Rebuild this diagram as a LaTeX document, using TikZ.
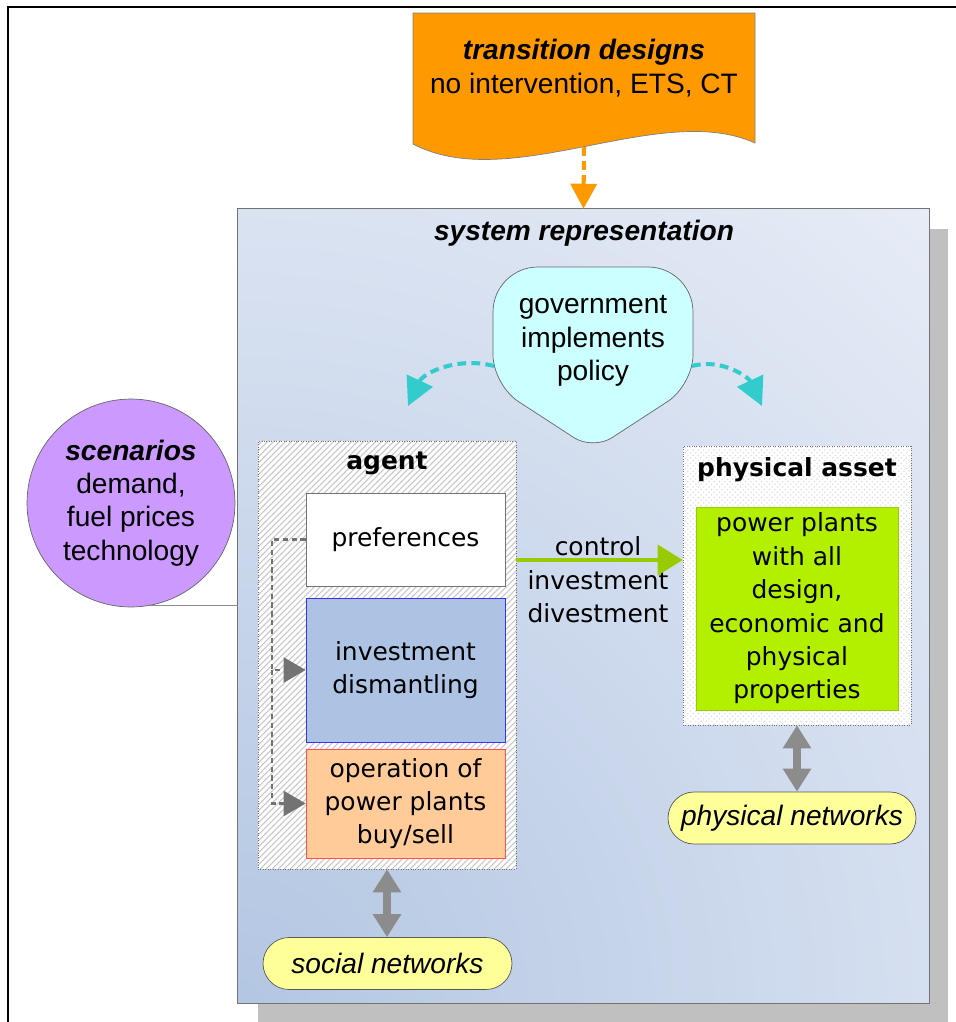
\documentclass[tikz,border=0pt]{standalone}
\usepackage{fontspec}
\setmainfont{Liberation Sans}
\newfontfamily\tahoma{DejaVu Sans}
\usetikzlibrary{arrows.meta,patterns}

\definecolor{transorange}{HTML}{FF9900}
\definecolor{govcyan}{HTML}{CCFFFF}
\definecolor{govarrow}{HTML}{33CCCC}
\definecolor{scenpurple}{HTML}{CC99FF}
\definecolor{netyellow}{HTML}{FFFF99}
\definecolor{plantgreen}{HTML}{B3F000}
\definecolor{ctrlgreen}{HTML}{99CC00}
\definecolor{investblue}{HTML}{ADC3E3}
\definecolor{investedge}{HTML}{3333FF}
\definecolor{operorange}{HTML}{FFCC99}
\definecolor{operedge}{HTML}{FF5050}
\definecolor{shadowgray}{HTML}{C0C0C0}
\definecolor{sysdark}{HTML}{B3C6E2}
\definecolor{syslight}{HTML}{E8EDF7}

\begin{document}
\begin{tikzpicture}[x=0.02cm, y=-0.02cm,
    every node/.style={align=center},
    arial/.style={font=\fontsize{16}{19}\selectfont},
    tahomatxt/.style={font=\tahoma\fontsize{14.2}{19}\selectfont},
    stepbox/.style={draw, minimum width=3.98cm, inner sep=0pt, tahomatxt},
    holder/.style={draw=black!55, densely dotted, inner sep=0pt},
    pill/.style={draw=black!65, fill=netyellow, rounded corners=0.52cm, minimum width=4.96cm,
        minimum height=1.04cm, inner sep=0pt, font=\fontsize{16}{19}\selectfont\itshape},
    netlink/.style={draw=black!45, line width=4pt,
        {Triangle[length=0.46cm,width=0.54cm]}-{Triangle[length=0.46cm,width=0.54cm]}},
    feed/.style={draw=black!55, densely dashed, line width=1.3pt, -{Triangle[length=0.44cm,width=0.5cm]}},
    policy/.style={draw=govarrow, line width=2.3pt, dash pattern=on 5pt off 3pt,
        -{Triangle[length=0.56cm,width=0.56cm]}},
    designflow/.style={draw=transorange, line width=2.3pt, dash pattern=on 5pt off 3pt,
        -{Triangle[length=0.5cm,width=0.52cm]}},
    control/.style={draw=ctrlgreen, line width=2.3pt, -{Triangle[length=0.5cm,width=0.6cm]}}]

    \useasboundingbox (0,0) rectangle (956,1022);
    \draw[line width=1.2pt] (8,1022) -- (8,7) -- (956,7);

    % system representation with its shadow
    \fill[shadowgray] (258,229) rectangle (948,1022);
    \node[fill=syslight, minimum width=13.82cm, minimum height=15.88cm, inner sep=0pt] (sys) at (583.5,606) {};
    \begin{scope}
        \clip (sys.south west) rectangle (sys.north east);
        \shade[inner color=sysdark, outer color=syslight] (sys.south west) circle[radius=21.5cm];
    \end{scope}
    \draw[black!55, line width=0.8pt] (sys.south west) rectangle (sys.north east);
    \node[arial] (systitle) at (584,233) {\bfseries\itshape system representation};

    % transition designs
    \draw[draw=black!50, fill=transorange] (413,13) -- (755,13) -- (755,143)
        .. controls (660,100) and (510,195) .. (413,144) -- cycle;
    \node[arial] (trans) at (584,68) {\textbf{\textit{transition designs}}\\no intervention, ETS, CT};
    \coordinate (transbot) at (584,147);
    \draw[designflow] (transbot) -- (sys.north);

    % government
    \draw[draw=black!60, fill=govcyan, rounded corners=0.9cm] (593,267) -- (693,267)
        [rounded corners=0.6cm] -- (693,385) [rounded corners=0.45cm] -- (593,450)
        [rounded corners=0.6cm] -- (493,385) [rounded corners=0.9cm] -- (493,267) -- cycle;
    \node[arial] (gov) at (593,341) {government\\implements\\policy};
    \coordinate (govL) at (494,366);
    \coordinate (govR) at (692,366);
    \coordinate (toagent) at (408,406);
    \coordinate (toasset) at (762,406);
    \draw[policy] (govL) to[out=165,in=65] (toagent);
    \draw[policy] (govR) to[out=15,in=115] (toasset);

    % scenarios
    \node[circle, draw=black!60, fill=scenpurple, minimum size=4.16cm, inner sep=0pt, arial] (scen)
        at (131,503) {\textbf{\textit{scenarios}}\\demand,\\fuel prices\\technology};
    \draw[black!45] (scen.-80) -- (scen.-80 -| sys.west);

    % agent
    \node[holder, fill=white, minimum width=5.16cm, minimum height=8.56cm] (agent) at (387,655) {};
    \begin{scope}
        \clip (agent.south west) rectangle (agent.north east);
        \foreach \x in {-172,-166,...,516}
        {
            \draw[black!22, line width=0.6pt] (\x,869) -- ++(430,-430);
        }
    \end{scope}
    \node[holder, minimum width=5.16cm, minimum height=8.56cm] at (agent) {};
    \node[tahomatxt] (agentlbl) at (387,463) {\bfseries agent};
    \node[stepbox, draw=black!55, fill=white, minimum height=1.86cm] (pref) at (405.5,539.5) {preferences};
    \node[stepbox, draw=investedge, fill=investblue, minimum height=2.88cm] (invest) at (405.5,670)
        {investment\\dismantling};
    \node[stepbox, draw=operedge, fill=operorange, minimum height=2.18cm] (oper) at (405.5,803.5)
        {operation of\\power plants\\buy/sell};
    \coordinate (bus) at (272,540);
    \draw[feed] (pref.west) -| (bus |- invest.west) -- (invest.west);
    \draw[feed] (bus |- invest.west) |- (oper.west);

    % physical asset
    \node[holder, preaction={fill=white}, pattern=crosshatch dots, pattern color=black!12, minimum width=4.56cm,
        minimum height=5.58cm] (asset) at (797,585.5) {};
    \node[tahomatxt] (assetlbl) at (797,470) {\bfseries physical asset};
    \node[stepbox, draw=ctrlgreen, fill=plantgreen, minimum width=4.04cm, minimum height=4.06cm] (plants)
        at (797,608.5) {power plants\\with all\\design,\\economic and\\physical\\properties};

    % control
    \node[tahomatxt] (ctrl) at (598,580) {control\\investment\\divestment};
    \coordinate (ctrlline) at (598,560);
    \draw[control] (agent.east |- ctrlline) -- (asset.west |- ctrlline);

    % networks
    \node[pill] (physnet) at (792,818) {physical networks};
    \node[pill, minimum width=4.98cm] (social) at (387.5,963.5) {social networks};
    \draw[netlink] (asset.south) -- (asset.south |- physnet.north);
    \draw[netlink] (agent.south) -- (agent.south |- social.north);

\end{tikzpicture}
\end{document}
